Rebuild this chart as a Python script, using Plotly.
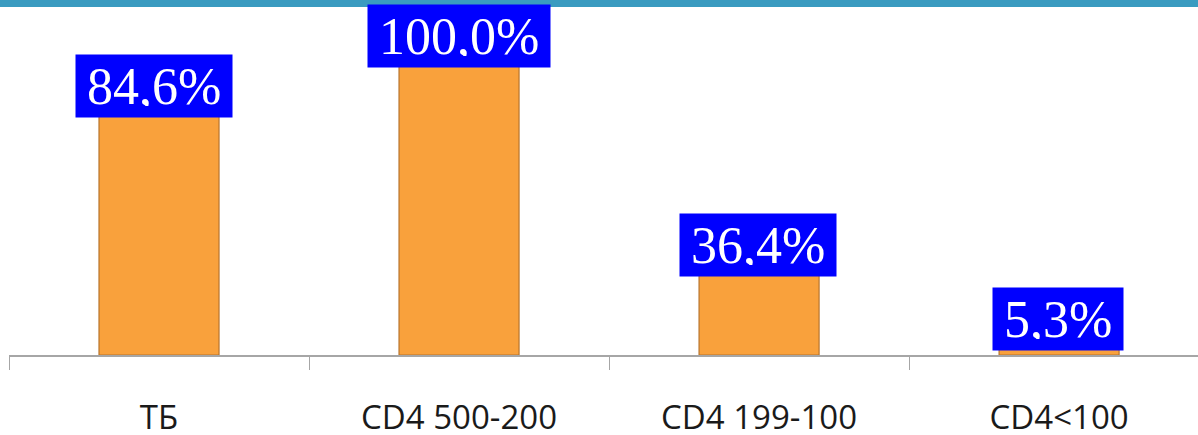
import plotly.graph_objects as go

categories = ["ТБ", "CD4 500-200", "CD4 199-100", "CD4<100"]
values = [84.6, 100.0, 36.4, 5.3]
labels = ["84,6%", "100,0%", "36,4%", "5,3%"]

# label box nudges (pixels) relative to the bar top
label_xshift = [-5, 0, -1, -1]
label_yshift = [-19, -21, -14, 18]

fig = go.Figure()
fig.add_trace(go.Bar(
    x=categories, y=values, width=0.4,
    marker=dict(color="#f9a13c", line=dict(color="#b8742c", width=1.2)),
    hoverinfo="skip", showlegend=False,
))

for c, v, t, xs, ys in zip(categories, values, labels, label_xshift, label_yshift):
    fig.add_annotation(
        x=c, y=v, text=t, showarrow=False, xanchor="center", yanchor="middle",
        xshift=xs, yshift=ys, bgcolor="#0000ff", borderpad=11, height=40,
        font=dict(family="Liberation Serif", size=52, color="white"),
    )

plot_top = 7
plot_h = 355 - plot_top
fig.add_shape(type="rect", xref="paper", yref="paper", x0=-0.01, x1=1.01,
              y0=1, y1=1 + 8 / plot_h, fillcolor="#3a9bc0", line_width=0, layer="above")

fig.update_layout(
    width=1198, height=435,
    margin=dict(l=9, r=0, t=plot_top, b=435 - 355, autoexpand=False),
    plot_bgcolor="white", paper_bgcolor="white",
    bargap=0.6,
    xaxis=dict(
        range=[-0.5, 3.463], showgrid=False, zeroline=False, automargin=False,
        showline=True, linecolor="#a6a6a6", linewidth=1.5,
        ticks="outside", tickson="boundaries", ticklen=13, tickcolor="#a6a6a6", tickwidth=1.2,
        tickfont=dict(family="Open Sans", size=33, color="#1a1a1a"),
        ticklabelstandoff=33,
    ),
    yaxis=dict(range=[0, plot_h / 3.4], visible=False, showgrid=False, zeroline=False,
               automargin=False),
)

fig.write_html("out.html", config={"displayModeBar": False},
               post_script="document.body.style.margin='0';document.body.style.overflow='hidden';")
